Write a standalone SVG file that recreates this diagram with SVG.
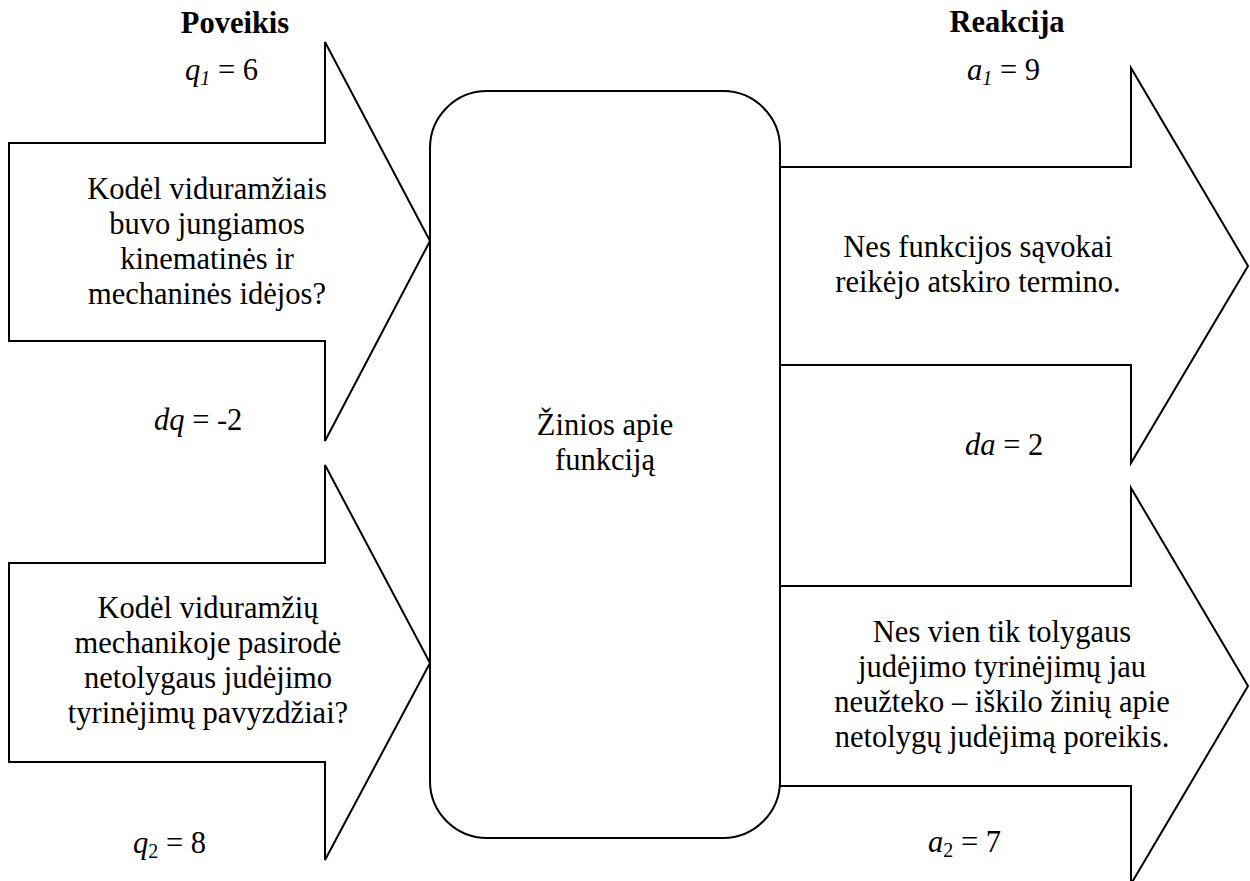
<svg xmlns="http://www.w3.org/2000/svg" width="1250" height="881" viewBox="0 0 1250 881">
<style>
.sh{fill:#fff;stroke:#000;stroke-width:2;stroke-linejoin:miter}
text{font-family:"Liberation Serif","Times New Roman",serif;font-size:30.5px;fill:#000}
.c{text-anchor:middle}
.b{font-weight:bold}
.i{font-style:italic}
.sub{font-size:20px}
</style>
<rect width="1250" height="881" fill="#fff"/>
<g id="connectors">
<g id="arrow-q1"><polygon class="sh" points="9,143 325,143 325,42 430,241 325,441 325,341 9,341"/></g>
<g id="arrow-q2"><polygon class="sh" points="9,563 325,563 325,465 430,663 325,860 325,762 9,762"/></g>
<g id="arrow-a1"><polygon class="sh" points="780,167 1131,167 1131,68 1248,266 1131,463 1131,365 780,365"/></g>
<g id="arrow-a2"><polygon class="sh" points="780,586 1131,586 1131,488 1248,686 1131,884 1131,786 780,786"/></g>
</g>
<g id="node-center">
<rect class="sh" x="430" y="91" width="350" height="747" rx="57" ry="57"/>
<text class="c" x="605" y="435">Žinios apie</text>
<text class="c" x="605" y="470">funkciją</text>
</g>
<g id="label-poveikis"><text class="c b" x="235" y="33">Poveikis</text></g>
<g id="label-reakcija"><text class="c b" x="1007" y="32">Reakcija</text></g>
<g id="label-q1"><text x="185" y="80"><tspan class="i">q</tspan><tspan class="i sub" dy="5">1</tspan><tspan dy="-5"> = 6</tspan></text></g>
<g id="label-dq"><text x="154" y="430"><tspan class="i">dq</tspan> = -2</text></g>
<g id="label-q2"><text x="133" y="853"><tspan class="i">q</tspan><tspan class="sub" dy="5">2</tspan><tspan dy="-5"> = 8</tspan></text></g>
<g id="label-a1"><text x="967" y="80"><tspan class="i">a</tspan><tspan class="i sub" dy="5">1</tspan><tspan dy="-5"> = 9</tspan></text></g>
<g id="label-da"><text x="965" y="455"><tspan class="i">da</tspan> = 2</text></g>
<g id="label-a2"><text x="928" y="852"><tspan class="i">a</tspan><tspan class="sub" dy="5">2</tspan><tspan dy="-5"> = 7</tspan></text></g>
<g id="text-q1">
<text class="c" x="207" y="199">Kodėl viduramžiais</text>
<text class="c" x="207" y="233.5">buvo jungiamos</text>
<text class="c" x="207" y="268.5">kinematinės ir</text>
<text class="c" x="207" y="303.5">mechaninės idėjos?</text>
</g>
<g id="text-q2">
<text class="c" x="208" y="618">Kodėl viduramžių</text>
<text class="c" x="208" y="653">mechanikoje pasirodė</text>
<text class="c" x="208" y="688">netolygaus judėjimo</text>
<text class="c" x="208" y="723">tyrinėjimų pavyzdžiai?</text>
</g>
<g id="text-a1">
<text class="c" x="978" y="257">Nes funkcijos sąvokai</text>
<text class="c" x="978" y="292">reikėjo atskiro termino.</text>
</g>
<g id="text-a2">
<text class="c" x="1002" y="642">Nes vien tik tolygaus</text>
<text class="c" x="1002" y="677">judėjimo tyrinėjimų jau</text>
<text class="c" x="1002" y="712">neužteko – iškilo žinių apie</text>
<text class="c" x="1002" y="747">netolygų judėjimą poreikis.</text>
</g>
</svg>
